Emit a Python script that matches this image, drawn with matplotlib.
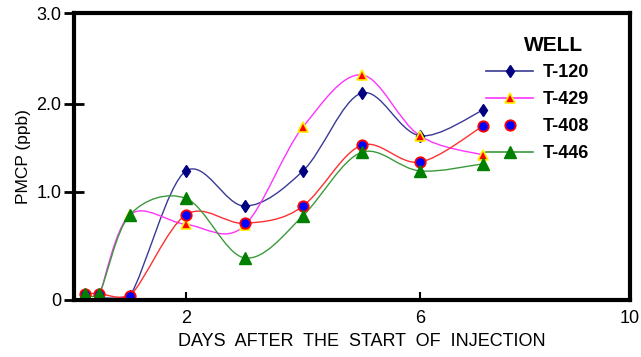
import numpy as np
from matplotlib import pyplot as plt
from matplotlib.path import Path
from matplotlib.patches import PathPatch
from matplotlib.lines import Line2D

plt.rcParams['font.family'] = ['Liberation Sans', 'DejaVu Sans']

# Data (days, PMCP in ppb)
days_120 = [0.45, 1.0, 2.0, 3.0, 4.0, 5.0, 6.0, 7.2]
pmcp_120 = [0.02, 0.04, 1.24, 0.87, 1.24, 2.12, 1.64, 1.93]

days_429 = [0.45, 1.0, 2.0, 3.0, 4.0, 5.0, 6.0, 7.2]
pmcp_429 = [0.03, 0.79, 0.70, 0.69, 1.74, 2.32, 1.64, 1.42]

days_408 = [0.2, 0.45, 1.0, 2.0, 3.0, 4.0, 5.0, 6.0, 7.2]
pmcp_408 = [0.06, 0.06, 0.04, 0.79, 0.71, 0.87, 1.53, 1.34, 1.75]

days_446 = [0.2, 0.45, 1.0, 2.0, 3.0, 4.0, 5.0, 6.0, 7.2]
pmcp_446 = [0.06, 0.06, 0.79, 0.94, 0.39, 0.78, 1.45, 1.24, 1.32]

x_ticks = [2, 6, 10]
y_ticks = [0, 1, 2, 3]
y_ticklabels = ["0", "1.0", "2.0", "3.0"]

# the original axes are not evenly spaced -> piecewise scale
XK, XP = [0, 2, 6, 10], [0, 112, 346, 556]
YK, YP = [0, 1, 2, 3], [0, 108, 196, 287]


def smooth_path(x, y):
    # Catmull-Rom -> cubic Bezier segments
    p = np.column_stack([x, y]).astype(float)
    ext = np.vstack([p[0], p, p[-1]])
    verts, codes = [p[0]], [Path.MOVETO]
    for i in range(1, len(ext) - 2):
        p0, p1, p2, p3 = ext[i - 1], ext[i], ext[i + 1], ext[i + 2]
        verts += [p1 + (p2 - p0) / 6, p2 - (p3 - p1) / 6, p2]
        codes += [Path.CURVE4] * 3
    return Path(verts, codes)


fig = plt.figure(figsize=(6.41, 3.57), dpi=100)
ax = fig.add_axes([74 / 641, 57 / 357, 556 / 641, 287 / 357])
ax.set_xscale("function", functions=(lambda v: np.interp(v, XK, XP),
                                      lambda v: np.interp(v, XP, XK)))
ax.set_yscale("function", functions=(lambda v: np.interp(v, YK, YP),
                                      lambda v: np.interp(v, YP, YK)))
ax.set_xlim(0, 10)
ax.set_ylim(0, 3)

series = [
    ("T-120", days_120, pmcp_120, "#3a3a96", dict(marker="d", ms=6, mfc="#000080", mec="#000080")),
    ("T-429", days_429, pmcp_429, "#ff33ff", dict(marker="^", ms=7, mfc="#ff0000", mec="#ffee00", mew=1.2)),
    ("T-408", days_408, pmcp_408, "#ff3030", dict(marker="o", ms=7.5, mfc="#0000ff", mec="#ff0000", mew=1.3)),
    ("T-446", days_446, pmcp_446, "#3c9a3c", dict(marker="^", ms=9, mfc="#008000", mec="#008000")),
]

for name, xs, ys, col, mk in series:
    ax.add_patch(PathPatch(smooth_path(xs, ys), fc="none", ec=col, lw=1.0))
for name, xs, ys, col, mk in series:
    ax.plot(xs, ys, ls="none", **mk)

handles = []
for name, xs, ys, col, mk in series:
    ls = "none" if name == "T-408" else "-"
    handles.append(Line2D([], [], color=col, ls=ls, lw=1.2, **mk))
leg = ax.legend(handles, [s[0] for s in series], title="WELL", loc="upper right",
                bbox_to_anchor=(0.955, 0.978), frameon=False, handlelength=2.6,
                handletextpad=0.5, labelspacing=0.55, alignment="right",
                prop=dict(size=13, weight="bold"),
                title_fontproperties=dict(size=15, weight="bold"))
leg.get_title().set_position((-6, 0))

ax.set_xticks(x_ticks)
ax.set_xticklabels([str(t) for t in x_ticks])
ax.set_yticks(y_ticks)
ax.set_yticklabels(y_ticklabels)
ax.tick_params(axis="x", direction="in", length=6, width=1.5, labelsize=13, pad=7)
ax.tick_params(axis="y", direction="inout", length=14, width=2, labelsize=13, pad=2)
for s in ax.spines.values():
    s.set_linewidth(3)

ax.set_xlabel("DAYS  AFTER  THE  START  OF  INJECTION", fontsize=13)
ax.xaxis.set_label_coords(0.518, -0.115)
ax.set_ylabel("PMCP (ppb)", fontsize=12.5, labelpad=4)

fig.savefig("out.png", dpi=100)
